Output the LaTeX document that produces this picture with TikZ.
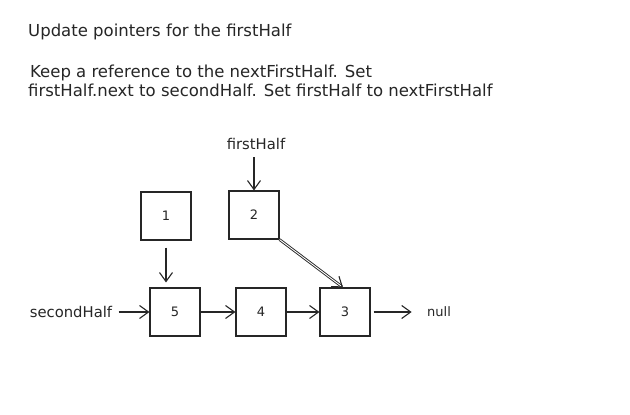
\documentclass[tikz,border=0pt]{standalone}
\usepackage{fontspec}
\setmainfont{DejaVu Sans}
\usetikzlibrary{arrows.meta}
\tikzset{
  every node/.style={font=\fontsize{13}{15}\selectfont, text=black!85},
  hdr/.style={anchor=west, inner sep=0pt, font=\fontsize{16.5}{19}\selectfont},
  word/.style={font=\fontsize{14.8}{17}\selectfont},
  lbox/.style={draw=black!85, line width=1.1pt, minimum width=50pt, minimum height=48pt, inner sep=0pt},
  conn/.style={draw=black!85, line width=1.1pt, -{Straight Barb[length=9pt,width=13pt,line width=1.1pt]}},
  dconn/.style={draw=black!85, line width=0.9pt, double=white, double distance=0.9pt, -{Straight Barb[length=9pt,width=13pt,line width=1.1pt]}}
}
\begin{document}
\begin{tikzpicture}[x=1pt,y=-1pt]
\useasboundingbox[fill=white] (0,0) rectangle (630,415);
\node[hdr] (title) at (28,32) {Update pointers for the firstHalf};
\node[hdr] (l1) at (30,73) {Keep a reference to the nextFirstHalf. Set};
\node[hdr] (l2) at (28,90) {firstHalf.next to secondHalf. Set firstHalf to nextFirstHalf};

\node[word] (fh) at (256,144) {firstHalf};
\node[lbox] (n1) at (166,216) {1};
\node[lbox] (n2) at (254,215) {2};
\node[lbox] (n5) at (175,312) {5};
\node[lbox] (n4) at (261,312) {4};
\node[lbox] (n3) at (345,312) {3};
\node[word] (sh) at (71,312) {secondHalf};
\node (null) at (439,312) {null};

\draw[conn] ([yshift=-4pt]fh.south -| n2) -- (n2.north);
\draw[conn] ([yshift=-7pt]n1.south) -- ([yshift=5pt]n5.north -| n1);
\draw[conn] ([xshift=3pt]sh.east) -- (n5.west);
\draw[conn] (n5.east) -- (n4.west);
\draw[conn] (n4.east) -- (n3.west);
\draw[conn] ([xshift=3pt]n3.east) -- ([xshift=-12pt]null.west);
\draw[dconn] (n2.south east) -- ([xshift=-2pt]n3.north);
\end{tikzpicture}
\end{document}
